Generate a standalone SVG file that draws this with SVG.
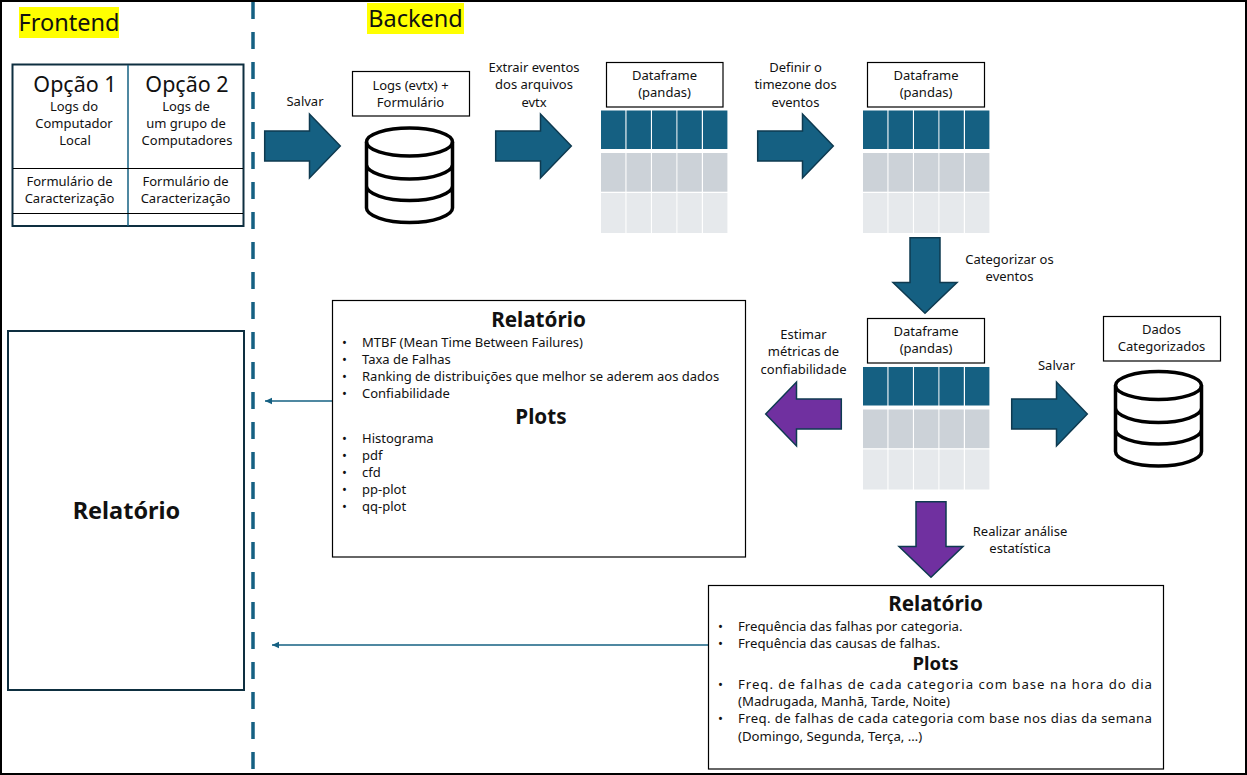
<svg xmlns="http://www.w3.org/2000/svg" xmlns:xlink="http://www.w3.org/1999/xlink" width="1247" height="775" viewBox="0 0 1247 775">
<style>
text{font-family:"Noto Sans","Open Sans","Liberation Sans",sans-serif;fill:#111;font-size:13px}
.c{text-anchor:middle}
.box{fill:#fff;stroke:#000;stroke-width:1.2}
.h{font-size:20.700px;font-weight:700}
.h2{font-size:18.500px;font-weight:700}
.big{font-size:21.500px}
.title{font-size:23.500px}
.s2{font-size:13.200px}
.blue{fill:#156082;stroke:#0e3a50;stroke-width:1.500}
.purple{fill:#7030a0;stroke:#0e3a50;stroke-width:1.500}
.db{fill:none;stroke:#000;stroke-width:3.500}
.conn{fill:none;stroke:#156082;stroke-width:1.300}
</style>
<defs>
<marker id="ah" markerWidth="8" markerHeight="8" refX="7" refY="4" orient="auto-start-reverse" markerUnits="userSpaceOnUse"><path d="M0 0.800L7 4L0 7.200Z" fill="#156082"/></marker>
<g id="table">
<g fill="#156082"><rect x="0" y="0.500" width="24.400" height="38.500"/><rect x="25.500" y="0.500" width="24.400" height="38.500"/><rect x="51" y="0.500" width="24.400" height="38.500"/><rect x="76.400" y="0.500" width="24.400" height="38.500"/><rect x="102" y="0.500" width="24.400" height="38.500"/></g>
<g fill="#ccd2d8"><rect x="0" y="43" width="24.400" height="38.700"/><rect x="25.500" y="43" width="24.400" height="38.700"/><rect x="51" y="43" width="24.400" height="38.700"/><rect x="76.400" y="43" width="24.400" height="38.700"/><rect x="102" y="43" width="24.400" height="38.700"/></g>
<g fill="#e6e9ec"><rect x="0" y="83" width="24.400" height="40"/><rect x="25.500" y="83" width="24.400" height="40"/><rect x="51" y="83" width="24.400" height="40"/><rect x="76.400" y="83" width="24.400" height="40"/><rect x="102" y="83" width="24.400" height="40"/></g>
</g>
<g id="cyl">
<ellipse cx="44.500" cy="15.500" rx="43" ry="14" class="db"/>
<path class="db" d="M1.500 15.500V81.500C1.500 89 20.500 96 44.500 96S87.500 89 87.500 81.500V15.500M1.500 38C1.500 45.500 20.500 52.500 44.500 52.500S87.500 45.500 87.500 38M1.500 59.500C1.500 67 20.500 74 44.500 74S87.500 67 87.500 59.500"/>
</g>
<path id="arrow" d="M0.700 -15H45.500V-32L76.300 0L45.500 32V15H0.700Z"/>
</defs>
<rect width="1247" height="775" fill="#fff"/>
<rect x="1" y="1" width="1245" height="773" fill="none" stroke="#000" stroke-width="2"/>
<g id="divider"><line x1="253" y1="2" x2="253" y2="772" stroke="#156082" stroke-width="3.500" stroke-dasharray="17 13"/></g>
<g id="frontend-title"><rect x="19" y="7" width="100" height="31" fill="#ff0"/><text x="69" y="31" class="c title">Frontend</text></g>
<g id="backend-title"><rect x="367" y="3" width="97" height="31" fill="#ff0"/><text x="415.500" y="27" class="c title">Backend</text></g>
<g id="options">
<rect x="12.500" y="64.500" width="231" height="161.500" fill="#fff" stroke="#0e2f40" stroke-width="2"/>
<line x1="128" y1="65" x2="128" y2="226" stroke="#156082" stroke-width="1.500"/>
<line x1="13" y1="168.500" x2="243" y2="168.500" stroke="#000" stroke-width="1"/>
<line x1="13" y1="213.500" x2="243" y2="213.500" stroke="#000" stroke-width="1"/>
<text x="75" y="91.500" class="c big">Opção 1</text>
<text x="187" y="91.500" class="c big">Opção 2</text>
<text x="74" y="111" class="c">Logs do</text><text x="74" y="128" class="c">Computador</text><text x="75" y="145" class="c">Local</text>
<text x="186" y="111" class="c">Logs de</text><text x="186" y="128" class="c">um grupo de</text><text x="187" y="145" class="c">Computadores</text>
<text x="69.500" y="186" class="c">Formulário de</text><text x="69.500" y="203" class="c">Caracterização</text>
<text x="185.500" y="186" class="c">Formulário de</text><text x="185.500" y="203" class="c">Caracterização</text>
</g>
<g id="report-left"><rect x="8" y="331" width="236" height="359" fill="#fff" stroke="#0e2f40" stroke-width="2"/><text x="126.500" y="519" class="c" style="font-size:23.500px;font-weight:700">Relatório</text></g>
<g id="connectors">
<line class="conn" x1="332" y1="401" x2="265" y2="401" marker-end="url(#ah)"/>
<line class="conn" x1="708" y1="645" x2="272" y2="645" marker-end="url(#ah)"/>
</g>
<g id="arrows">
<use xlink:href="#arrow" href="#arrow" class="blue" transform="translate(264 146)"/>
<use xlink:href="#arrow" href="#arrow" class="blue" transform="translate(495 146)"/>
<use xlink:href="#arrow" href="#arrow" class="blue" transform="translate(757 146)"/>
<use xlink:href="#arrow" href="#arrow" class="blue" transform="translate(925 237) rotate(90)"/>
<use xlink:href="#arrow" href="#arrow" class="blue" transform="translate(1011 414)"/>
<use xlink:href="#arrow" href="#arrow" class="purple" transform="translate(842 414) rotate(180)"/>
<use xlink:href="#arrow" href="#arrow" class="purple" transform="translate(931 501) rotate(90)"/>
</g>
<g id="salvar-label"><text x="305" y="106" class="c">Salvar</text></g>
<g id="logs-store"><rect class="box" x="352.500" y="71.500" width="117" height="44.500"/><text x="410.500" y="90" class="c">Logs (evtx) +</text><text x="410.500" y="107" class="c">Formulário</text><use xlink:href="#cyl" href="#cyl" transform="translate(365 126.500)"/></g>
<g id="extract-label"><text x="534" y="72" class="c">Extrair eventos</text><text x="534" y="89" class="c">dos arquivos</text><text x="534" y="107" class="c">evtx</text></g>
<g id="dataframe-1"><rect class="box" x="606.500" y="62.500" width="116.500" height="44.500"/><text x="664.500" y="80" class="c">Dataframe</text><text x="664.500" y="97" class="c">(pandas)</text><use xlink:href="#table" href="#table" transform="translate(601 110)"/></g>
<g id="timezone-label"><text x="795.500" y="72" class="c">Definir o</text><text x="795.500" y="89" class="c">timezone dos</text><text x="795.500" y="107" class="c">eventos</text></g>
<g id="dataframe-2"><rect class="box" x="867.500" y="62.500" width="117" height="44.500"/><text x="926" y="80" class="c">Dataframe</text><text x="926" y="97" class="c">(pandas)</text><use xlink:href="#table" href="#table" transform="translate(863 110)"/></g>
<g id="categorize-label"><text x="1009.500" y="264" class="c">Categorizar os</text><text x="1009.500" y="281" class="c">eventos</text></g>
<g id="dataframe-3"><rect class="box" x="867.500" y="318.500" width="117" height="44.500"/><text x="926" y="336" class="c">Dataframe</text><text x="926" y="353" class="c">(pandas)</text><use xlink:href="#table" href="#table" transform="translate(863 366.500)"/></g>
<g id="metrics-label"><text x="803.500" y="339" class="c">Estimar</text><text x="803.500" y="356" class="c">métricas de</text><text x="803.500" y="374" class="c">confiabilidade</text></g>
<g id="salvar-label-2"><text x="1056.500" y="370" class="c">Salvar</text></g>
<g id="categorized-store"><rect class="box" x="1103.500" y="316.500" width="117" height="44.500"/><text x="1161.500" y="334" class="c">Dados</text><text x="1161.500" y="351" class="c">Categorizados</text><use xlink:href="#cyl" href="#cyl" transform="translate(1114 370)"/></g>
<g id="analysis-label"><text x="1020" y="536" class="c">Realizar análise</text><text x="1020" y="553" class="c">estatística</text></g>
<g id="report-reliability">
<rect class="box" x="332.500" y="300.500" width="413" height="256.500"/>
<text x="538.500" y="327" class="c h">Relatório</text>
<g id="rel-bullets"><text x="342" y="347">•</text><text x="342" y="364">•</text><text x="342" y="381">•</text><text x="342" y="398">•</text><text x="342" y="443">•</text><text x="342" y="460">•</text><text x="342" y="477">•</text><text x="342" y="494">•</text><text x="342" y="511">•</text></g>
<text x="362" y="347">MTBF (Mean Time Between Failures)</text>
<text x="362" y="364">Taxa de Falhas</text>
<text x="362" y="381">Ranking de distribuições que melhor se aderem aos dados</text>
<text x="362" y="398">Confiabilidade</text>
<text x="541" y="424" class="c h">Plots</text>
<text x="362" y="443">Histograma</text>
<text x="362" y="460">pdf</text>
<text x="362" y="477">cfd</text>
<text x="362" y="494">pp-plot</text>
<text x="362" y="511">qq-plot</text>
</g>
<g id="report-statistics">
<rect class="box" x="708.500" y="585.500" width="455" height="183.500"/>
<text x="935.500" y="611" class="c h">Relatório</text>
<text x="718" y="631" class="s2">•</text><text x="718" y="648" class="s2">•</text><text x="718" y="689" class="s2">•</text><text x="718" y="723" class="s2">•</text>
<text x="738" y="631" class="s2">Frequência das falhas por categoria.</text>
<text x="738" y="648" class="s2">Frequência das causas de falhas.</text>
<text x="935.500" y="670" class="c h2">Plots</text>
<text x="738" y="689" class="s2" textLength="414" lengthAdjust="spacing">Freq. de falhas de cada categoria com base na hora do dia</text>
<text x="738" y="706" class="s2">(Madrugada, Manhã, Tarde, Noite)</text>
<text x="738" y="723" class="s2" textLength="414" lengthAdjust="spacing">Freq. de falhas de cada categoria com base nos dias da semana</text>
<text x="738" y="741" class="s2">(Domingo, Segunda, Terça, …)</text>
</g>
</svg>
